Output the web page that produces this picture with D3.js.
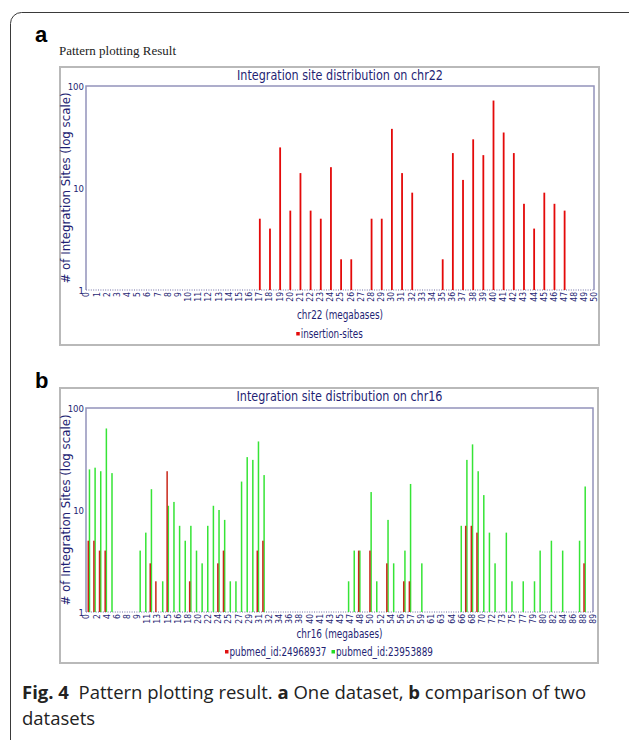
<!DOCTYPE html>
<html>
<head>
<meta charset="utf-8">
<script src="https://cdn.jsdelivr.net/npm/d3@7"></script>
<style>
body { margin: 0; background: #fff; }
svg { display: block; }
</style>
</head>
<body>
<div id="fig"></div>
<script>
// panel a: chr22, one dataset
var chr22Ticks = ["0","1","2","3","4","5","6","7","8","9","10","11","12","13","14","15","16","17","18","19","20",
    "21","22","23","24","25","26","27","28","29","30","31","32","33","34","35","36","37","38","39","40",
    "41","42","43","44","45","46","47","48","49","50"];
var chr22Pos   = [17,18,19,20,21,22,23,24,25,26,28,29,30,31,32,35,36,37,38,39,40,41,42,43,44,45,46,47];
var chr22Sites = [5,4,25,6,14,6,5,16,2,2,5,5,38,14,9,2,22,12,30,21,72,35,22,7,4,9,7,6];

// panel b: chr16, two datasets (positions are 1 Mb bins)
var chr16Ticks = ["0","2","4","6","8","9","11","13","15","16","18","20","22","24","25","27","29","31","32","34",
    "36","38","40","41","43","45","47","48","50","52","54","56","57","59","61","63","64","66","68","70",
    "72","73","75","77","79","80","82","84","86","88","89"];
var pm24968937Pos   = [0,1,2,3,11,12,14,18,23,24,30,31,48,50,53,56,57,67,68,69,88];
var pm24968937Sites = [5,5,4,4,3,2,24,2,3,4,4,5,4,4,3,2,2,7,7,6,3];
var pm23953889Pos   = [0,1,2,3,4,9,10,11,13,14,15,16,17,18,19,20,21,22,23,24,25,26,27,28,29,30,31,
    46,47,48,50,51,53,54,56,57,59,66,67,68,69,70,71,72,74,75,77,79,80,82,84,87,88];
var pm23953889Sites = [25,26,24,63,23,4,6,16,2,11,12,7,5,7,4,3,7,11,10,8,2,2,19,33,31,47,22,
    2,4,4,15,2,8,3,4,18,3,7,31,44,24,14,6,3,6,2,2,2,4,5,4,5,17];

var yTicks = [1, 10, 100];

var W = 629, H = 740;
var navy = "#1f1f74";
var cond = "'DejaVu Sans Condensed','DejaVu Sans',sans-serif";

var svg = d3.select("#fig").append("svg")
    .attr("width", W)
    .attr("height", H);

// rounded figure border
svg.append("rect")
    .attr("x", 10.5).attr("y", 12.5)
    .attr("width", 660).attr("height", 760)
    .attr("rx", 11)
    .attr("fill", "none")
    .attr("stroke", "#3a3a3a")
    .attr("stroke-width", 1);

svg.append("text")
    .attr("x", 35).attr("y", 42)
    .attr("font-family", "'Liberation Sans',Arial,sans-serif")
    .attr("font-weight", "bold")
    .attr("font-size", 22)
    .text("a");

svg.append("text")
    .attr("x", 59).attr("y", 55)
    .attr("font-family", "'Liberation Serif','Times New Roman',serif")
    .attr("font-size", 13)
    .attr("fill", "#222")
    .text("Pattern plotting Result");

svg.append("text")
    .attr("x", 35).attr("y", 388)
    .attr("font-family", "'Liberation Sans',Arial,sans-serif")
    .attr("font-weight", "bold")
    .attr("font-size", 22)
    .text("b");

function fitText(sel, len) {
    sel.attr("textLength", len).attr("lengthAdjust", "spacingAndGlyphs");
}

function drawPanel(cfg) {
    var g = svg.append("g");
    var b = cfg.box, p = cfg.plot;
    var cx = (p[0] + p[2]) / 2;

    g.append("rect")
        .attr("x", b[0]).attr("y", b[1])
        .attr("width", b[2] - b[0]).attr("height", b[3] - b[1])
        .attr("fill", "#fff")
        .attr("stroke", "#b9b9b9")
        .attr("stroke-width", 2);

    var y = d3.scaleLog().domain([1, 100]).range([p[3], p[1]]);

    g.append("text")
        .attr("x", cx).attr("y", cfg.titleY)
        .attr("text-anchor", "middle")
        .attr("font-family", cond)
        .attr("font-size", 14.5)
        .attr("fill", navy)
        .text(cfg.title)
        .call(fitText, 206);

    // plot frame, bottom edge dotted
    g.append("path")
        .attr("d", "M" + p[0] + "," + p[3] + "V" + p[1] + "H" + p[2] + "V" + p[3])
        .attr("fill", "none")
        .attr("stroke", "#9393ba")
        .attr("stroke-width", 1.5);
    g.append("line")
        .attr("x1", p[0]).attr("x2", p[2])
        .attr("y1", p[3]).attr("y2", p[3])
        .attr("stroke", "#6f6fa3")
        .attr("stroke-width", 1)
        .attr("stroke-dasharray", "1,1.4");

    // y axis
    var ya = g.append("g")
        .attr("transform", "translate(" + p[0] + ",0)")
        .call(d3.axisLeft(y).tickValues(yTicks).tickFormat(d3.format("d")).tickSize(0).tickPadding(2));
    ya.select(".domain").remove();
    ya.selectAll("text")
        .attr("font-family", cond)
        .attr("font-size", 9.5)
        .attr("fill", navy);

    g.append("text")
        .attr("transform", "translate(" + (p[0] - 16) + "," + ((p[1] + p[3]) / 2) + ") rotate(-90)")
        .attr("text-anchor", "middle")
        .attr("font-family", cond)
        .attr("font-size", 12.5)
        .attr("fill", navy)
        .text("# of Integration Sites (log scale)")
        .call(fitText, 191);

    // x tick labels
    var xt = d3.scalePoint().domain(cfg.ticks).range([p[0], p[2]]);
    var xa = g.append("g")
        .attr("transform", "translate(0," + p[3] + ")")
        .call(d3.axisBottom(xt).tickSize(0));
    xa.select(".domain").remove();
    xa.selectAll("text")
        .attr("transform", "rotate(-90)")
        .attr("x", -2).attr("y", 0).attr("dy", "0.35em")
        .attr("text-anchor", "end")
        .attr("font-family", cond)
        .attr("font-size", 8.5)
        .attr("fill", navy);

    // bars
    cfg.series.forEach(function(s) {
        var rows = s.pos.map(function(d, i) { return {pos: d, n: s.sites[i]}; });
        g.append("g").selectAll("rect")
            .data(rows)
            .join("rect")
            .attr("x", function(d) { return cfg.x(d.pos) + s.dx; })
            .attr("y", function(d) { return y(d.n); })
            .attr("width", s.w)
            .attr("height", function(d) { return y(1) - y(d.n); })
            .attr("fill", s.color);
    });

    g.append("text")
        .attr("x", cx).attr("y", cfg.xlabelY)
        .attr("text-anchor", "middle")
        .attr("font-family", cond)
        .attr("font-size", 13)
        .attr("fill", navy)
        .text(cfg.xlabel)
        .call(fitText, 86);

    // legend, centred in the box
    var leg = g.append("g");
    var lx = 0;
    cfg.series.slice().sort(function(a, c) { return a.order - c.order; }).forEach(function(s) {
        leg.append("rect")
            .attr("x", lx).attr("y", -6)
            .attr("width", 3.5).attr("height", 3.5)
            .attr("fill", s.legendColor);
        leg.append("text")
            .attr("x", lx + 4.5).attr("y", 0)
            .attr("font-family", cond)
            .attr("font-size", 11.5)
            .attr("fill", navy)
            .text(s.name)
            .call(fitText, s.textLen);
        lx += 4.5 + s.textLen + 5;
    });
    leg.attr("transform", "translate(" + ((b[0] + b[2]) / 2 - (lx - 5) / 2) + "," + cfg.legendY + ")");
}

var plotA = [86, 86, 594, 290];
var xA = d3.scaleLinear().domain([+chr22Ticks[0], +chr22Ticks[chr22Ticks.length - 1]]).range([plotA[0], plotA[2]]);
drawPanel({
    box: [60, 67, 599, 345],
    plot: plotA,
    title: "Integration site distribution on chr22",
    titleY: 80,
    ticks: chr22Ticks,
    x: xA,
    xlabel: "chr22 (megabases)",
    xlabelY: 319,
    legendY: 338,
    series: [
        {name: "insertion-sites", pos: chr22Pos, sites: chr22Sites, color: "#e40a0a", legendColor: "#e40a0a",
         dx: 0.2, w: 1.8, order: 0, textLen: 62}
    ]
});

var plotB = [86, 408, 593, 612];
var xB = d3.scaleLinear()
    .domain([+chr16Ticks[0] - 0.5, +chr16Ticks[chr16Ticks.length - 1] + 0.5])
    .range([plotB[0], plotB[2]]);
drawPanel({
    box: [60, 388, 598, 663],
    plot: plotB,
    title: "Integration site distribution on chr16",
    titleY: 401,
    ticks: chr16Ticks,
    x: xB,
    xlabel: "chr16 (megabases)",
    xlabelY: 638,
    legendY: 656,
    series: [
        {name: "pubmed_id:23953889", pos: pm23953889Pos, sites: pm23953889Sites, color: "#36e436", legendColor: "#22dd22",
         dx: -0.1, w: 1.5, order: 1, textLen: 97},
        {name: "pubmed_id:24968937", pos: pm24968937Pos, sites: pm24968937Sites, color: "#c8281a", legendColor: "#e01010",
         dx: -1.3, w: 1.5, order: 0, textLen: 97}
    ]
});

// caption
var capFont = "'Open Sans','Noto Sans',sans-serif";
var cap = svg.append("text")
    .attr("x", 22).attr("y", 699)
    .attr("font-family", capFont)
    .attr("font-size", 18.5)
    .attr("fill", "#222");
[["Fig. 4", true], ["  Pattern plotting result. ", false], ["a", true], [" One dataset, ", false],
 ["b", true], [" comparison of two", false]].forEach(function(t) {
    cap.append("tspan").attr("font-weight", t[1] ? "bold" : "normal").attr("xml:space", "preserve").text(t[0]);
});
svg.append("text")
    .attr("x", 22).attr("y", 725)
    .attr("font-family", capFont)
    .attr("font-size", 18.5)
    .attr("fill", "#222")
    .text("datasets");
</script>
</body>
</html>
